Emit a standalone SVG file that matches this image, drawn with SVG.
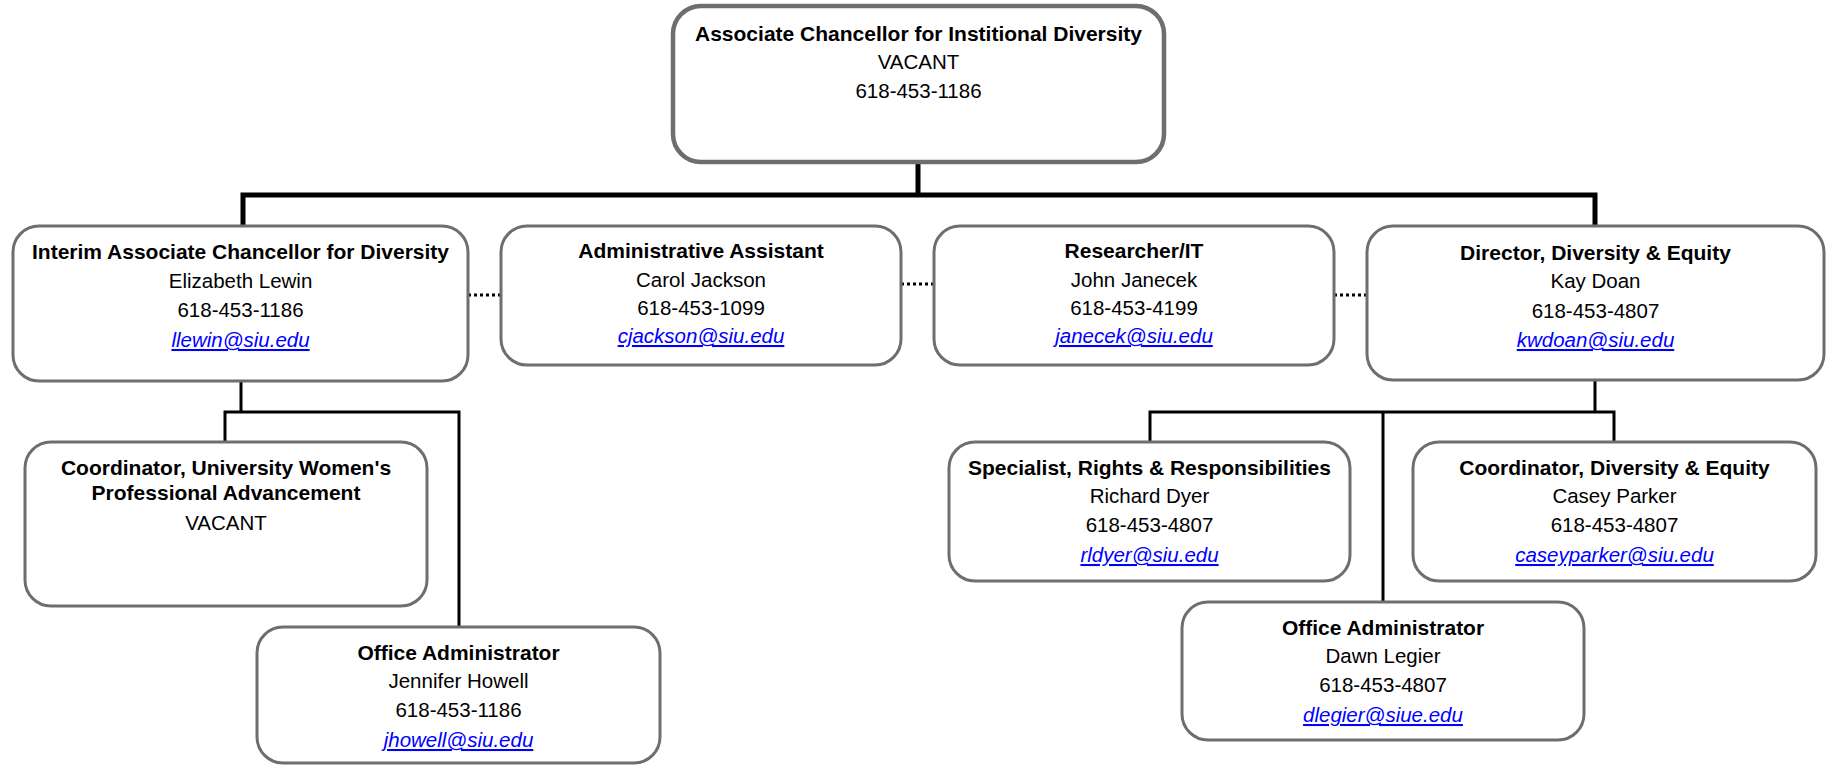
<svg xmlns="http://www.w3.org/2000/svg" width="1827" height="765" viewBox="0 0 1827 765">
<style>
.box{fill:#fff;stroke:#6e6e6e;stroke-width:3}
.top{fill:#fff;stroke:#6e6e6e;stroke-width:4.5}
text{font-family:"Liberation Sans",Arial,sans-serif;text-anchor:middle;fill:#000}
.t{font-weight:bold;font-size:21px}
.r{font-size:20.5px}
.e{font-size:20.5px;font-style:italic;fill:#0000ff;text-decoration:underline}
.thick{fill:none;stroke:#000;stroke-width:5}
.thin{fill:none;stroke:#000;stroke-width:3}
.dot{fill:none;stroke:#000;stroke-width:3;stroke-dasharray:3 3}
</style>
<rect width="1827" height="765" fill="#fff"/>
<g id="connectors">
<path class="thick" d="M918 162V195M243 226V195H1595V226"/>
<path class="thin" d="M241 381V412M225 442V412H459V627"/>
<path class="thin" d="M1595 380V412M1150 442V412H1614V442M1383 412V602"/>
<path class="dot" d="M468 295H501"/>
<path class="dot" d="M901 284H934"/>
<path class="dot" d="M1334 295H1367"/>
</g>
<g id="n-assoc-chancellor">
<rect class="top" x="673" y="6" width="491" height="156" rx="28"/>
<text class="t" x="918.5" y="41">Associate Chancellor for Institional Diversity</text>
<text class="r" x="918.5" y="69">VACANT</text>
<text class="r" x="918.5" y="98">618-453-1186</text>
</g>
<g id="n-interim">
<rect class="box" x="13" y="226" width="455" height="155" rx="26"/>
<text class="t" x="240.5" y="259">Interim Associate Chancellor for Diversity</text>
<text class="r" x="240.5" y="288">Elizabeth Lewin</text>
<text class="r" x="240.5" y="317">618-453-1186</text>
<text class="e" x="240.5" y="347">llewin@siu.edu</text>
</g>
<g id="n-admin-assistant">
<rect class="box" x="501" y="226" width="400" height="139" rx="26"/>
<text class="t" x="701" y="258">Administrative Assistant</text>
<text class="r" x="701" y="287">Carol Jackson</text>
<text class="r" x="701" y="315">618-453-1099</text>
<text class="e" x="701" y="343">cjackson@siu.edu</text>
</g>
<g id="n-researcher">
<rect class="box" x="934" y="226" width="400" height="139" rx="26"/>
<text class="t" x="1134" y="258">Researcher/IT</text>
<text class="r" x="1134" y="287">John Janecek</text>
<text class="r" x="1134" y="315">618-453-4199</text>
<text class="e" x="1134" y="343">janecek@siu.edu</text>
</g>
<g id="n-director">
<rect class="box" x="1367" y="226" width="457" height="154" rx="26"/>
<text class="t" x="1595.5" y="260">Director, Diversity &amp; Equity</text>
<text class="r" x="1595.5" y="288">Kay Doan</text>
<text class="r" x="1595.5" y="318">618-453-4807</text>
<text class="e" x="1595.5" y="347">kwdoan@siu.edu</text>
</g>
<g id="n-coord-women">
<rect class="box" x="25" y="442" width="402" height="164" rx="26"/>
<text class="t" x="226" y="475">Coordinator, University Women's</text>
<text class="t" x="226" y="500">Professional Advancement</text>
<text class="r" x="226" y="530">VACANT</text>
</g>
<g id="n-office-admin-left">
<rect class="box" x="257" y="627" width="403" height="136" rx="26"/>
<text class="t" x="458.5" y="660">Office Administrator</text>
<text class="r" x="458.5" y="688">Jennifer Howell</text>
<text class="r" x="458.5" y="717">618-453-1186</text>
<text class="e" x="458.5" y="747">jhowell@siu.edu</text>
</g>
<g id="n-specialist">
<rect class="box" x="949" y="442" width="401" height="139" rx="26"/>
<text class="t" x="1149.5" y="475">Specialist, Rights &amp; Responsibilities</text>
<text class="r" x="1149.5" y="503">Richard Dyer</text>
<text class="r" x="1149.5" y="532">618-453-4807</text>
<text class="e" x="1149.5" y="562">rldyer@siu.edu</text>
</g>
<g id="n-coord-diversity">
<rect class="box" x="1413" y="442" width="403" height="139" rx="26"/>
<text class="t" x="1614.5" y="475">Coordinator, Diversity &amp; Equity</text>
<text class="r" x="1614.5" y="503">Casey Parker</text>
<text class="r" x="1614.5" y="532">618-453-4807</text>
<text class="e" x="1614.5" y="562">caseyparker@siu.edu</text>
</g>
<g id="n-office-admin-right">
<rect class="box" x="1182" y="602" width="402" height="138" rx="26"/>
<text class="t" x="1383" y="635">Office Administrator</text>
<text class="r" x="1383" y="663">Dawn Legier</text>
<text class="r" x="1383" y="692">618-453-4807</text>
<text class="e" x="1383" y="722">dlegier@siue.edu</text>
</g>
</svg>
